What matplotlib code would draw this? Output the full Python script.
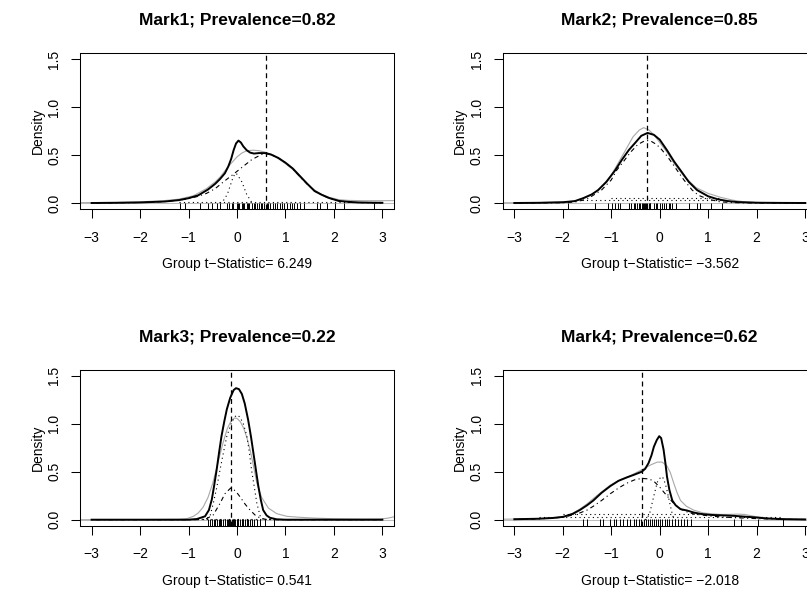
import matplotlib
matplotlib.use("Agg")
import matplotlib.pyplot as plt

plt.rcParams['font.family'] = ['Liberation Sans', 'DejaVu Sans']

W, H = 807, 616

titles = ["Mark1; Prevalence=0.82", "Mark2; Prevalence=0.85",
          "Mark3; Prevalence=0.22", "Mark4; Prevalence=0.62"]
t_stats = ["6.249", "\u22123.562", "0.541", "\u22122.018"]
cut_lines = [0.59, -0.26, -0.13, -0.37]

x_ticks = [-3, -2, -1, 0, 1, 2, 3]
x_tick_labels = ["\u22123", "\u22122", "\u22121", "0", "1", "2", "3"]
y_ticks = [0.0, 0.5, 1.0, 1.5]
y_tick_labels = ["0.0", "0.5", "1.0", "1.5"]

# --- Mark1 ---
m1_black_x = [-3.0, -2.5, -2.0, -1.5, -1.2, -1.0, -0.8, -0.6, -0.45, -0.35, -0.25, -0.18, -0.12, -0.07,
              -0.02, 0.03, 0.08, 0.13, 0.2, 0.27, 0.35, 0.45, 0.58, 0.7, 0.85, 1.0, 1.15, 1.3, 1.45,
              1.6, 1.75, 1.9, 2.1, 2.3, 2.5, 2.8, 3.0]
m1_black_y = [0.0, 0.002, 0.006, 0.015, 0.03, 0.05, 0.08, 0.14, 0.2, 0.25, 0.31, 0.38, 0.46, 0.55,
              0.62, 0.65, 0.63, 0.59, 0.55, 0.525, 0.515, 0.52, 0.52, 0.505, 0.47, 0.42, 0.36, 0.28, 0.2,
              0.125, 0.085, 0.052, 0.022, 0.012, 0.006, 0.003, 0.002]
m1_gray_x = [-3.24, -2.5, -2.0, -1.5, -1.2, -0.9, -0.63, -0.45, -0.35, -0.18, 0.0, 0.1, 0.2, 0.34,
             0.45, 0.58, 0.75, 0.89, 1.0, 1.15, 1.3, 1.45, 1.6, 1.75, 1.9, 2.1, 2.3, 2.6, 3.0, 3.24]
m1_gray_y = [0.003, 0.006, 0.012, 0.025, 0.04, 0.075, 0.15, 0.22, 0.27, 0.38, 0.48, 0.52, 0.545, 0.55,
             0.545, 0.53, 0.5, 0.45, 0.41, 0.35, 0.27, 0.2, 0.135, 0.09, 0.06, 0.035, 0.027, 0.024, 0.024, 0.025]
m1_dashdot_x = [-3.0, -2.0, -1.5, -1.2, -1.0, -0.8, -0.63, -0.45, -0.28, -0.1, 0.0, 0.1, 0.2, 0.3, 0.41,
                0.5, 0.6, 0.7, 0.85, 1.0, 1.15, 1.3, 1.45, 1.6, 1.75, 1.9, 2.1, 2.3, 2.5, 3.0]
m1_dashdot_y = [0.0, 0.005, 0.015, 0.03, 0.045, 0.07, 0.1, 0.15, 0.22, 0.29, 0.33, 0.37, 0.41, 0.45, 0.48,
                0.505, 0.515, 0.505, 0.47, 0.42, 0.355, 0.275, 0.195, 0.125, 0.083, 0.05, 0.022, 0.01, 0.005, 0.001]
m1_dotted_x = [-0.35, -0.3, -0.2, -0.1, -0.04, 0.0, 0.1, 0.2, 0.3, 0.35]
m1_dotted_y = [0.0, 0.01, 0.09, 0.24, 0.31, 0.3, 0.22, 0.09, 0.01, 0.0]
m1_flat = [(-1.2, 3.0, 0.012)]
m1_rug = [-1.18, -1.08, -0.77, -0.59, -0.52, -0.42, -0.35, -0.21, -0.17, -0.11, -0.08, -0.01, 0.02,
          0.05, 0.1, 0.12, 0.14, 0.2, 0.23, 0.25, 0.3, 0.35, 0.38, 0.41, 0.46, 0.49, 0.51, 0.56, 0.61,
          0.64, 0.68, 0.75, 0.79, 0.82, 0.89, 0.93, 0.96, 1.03, 1.1, 1.14, 1.17, 1.23, 1.3, 1.39,
          1.65, 1.72, 1.86, 2.03, 2.2, 2.82]

# --- Mark2 ---
m2_black_x = [-3.0, -2.5, -2.0, -1.75, -1.58, -1.4, -1.27, -1.1, -0.92, -0.78, -0.64, -0.5, -0.38, -0.25,
              -0.12, 0.0, 0.15, 0.3, 0.43, 0.6, 0.77, 1.0, 1.19, 1.4, 1.6, 2.0, 2.5, 3.0]
m2_black_y = [0.0, 0.002, 0.008, 0.02, 0.05, 0.09, 0.135, 0.22, 0.34, 0.45, 0.55, 0.63, 0.7, 0.73,
              0.71, 0.66, 0.55, 0.43, 0.34, 0.22, 0.135, 0.07, 0.04, 0.02, 0.01, 0.003, 0.001, 0.0]
m2_gray_x = [-3.24, -2.5, -2.0, -1.75, -1.5, -1.25, -1.0, -0.75, -0.55, -0.42, -0.33, -0.22, -0.1, 0.0,
             0.15, 0.3, 0.5, 0.75, 1.0, 1.25, 1.5, 1.75, 2.0, 2.5, 3.24]
m2_gray_y = [0.002, 0.004, 0.01, 0.018, 0.06, 0.14, 0.29, 0.51, 0.69, 0.76, 0.785, 0.76, 0.7, 0.63,
             0.53, 0.41, 0.28, 0.16, 0.1, 0.06, 0.03, 0.012, 0.005, 0.002, 0.001]
m2_dashdot_x = [-3.0, -2.0, -1.75, -1.5, -1.2, -1.0, -0.89, -0.75, -0.6, -0.45, -0.3, -0.2, -0.1, 0.0,
                0.15, 0.25, 0.36, 0.5, 0.67, 0.8, 1.0, 1.25, 1.5, 2.0, 3.0]
m2_dashdot_y = [0.0, 0.003, 0.01, 0.04, 0.135, 0.24, 0.34, 0.43, 0.53, 0.61, 0.65, 0.65, 0.62, 0.58,
                0.49, 0.42, 0.34, 0.24, 0.135, 0.08, 0.04, 0.012, 0.004, 0.0, 0.0]
m2_dotted_x = []
m2_dotted_y = []
m2_flat = [(-1.0, 1.26, 0.05), (-1.6, 1.26, 0.03)]
m2_rug = [-1.89, -1.33, -1.06, -0.99, -0.92, -0.87, -0.82, -0.64, -0.59, -0.54, -0.5, -0.46, -0.43,
          -0.41, -0.37, -0.35, -0.33, -0.3, -0.28, -0.26, -0.23, -0.21, -0.19, -0.11, -0.08, -0.06,
          0.0, 0.05, 0.09, 0.12, 0.19, 0.22, 0.26, 0.33, 0.6, 0.77, 0.84, 1.05, 1.29]

# --- Mark3 ---
m3_black_x = [-3.0, -1.0, -0.83, -0.66, -0.58, -0.52, -0.47, -0.42, -0.37, -0.32, -0.26, -0.21, -0.14,
              -0.07, -0.02, 0.04, 0.1, 0.16, 0.23, 0.29, 0.34, 0.39, 0.44, 0.49, 0.54, 0.61, 0.68, 0.82,
              1.0, 3.0]
m3_black_y = [0.0, 0.0, 0.007, 0.035, 0.1, 0.21, 0.36, 0.52, 0.7, 0.87, 1.03, 1.15, 1.27,
              1.35, 1.37, 1.36, 1.31, 1.21, 1.04, 0.86, 0.69, 0.52, 0.35, 0.21, 0.1, 0.045, 0.02, 0.004,
              0.0, 0.0]
m3_gray_x = [-3.24, -2.0, -1.2, -1.04, -0.9, -0.8, -0.7, -0.6, -0.5, -0.4, -0.3, -0.2, -0.12, -0.05,
             0.0, 0.07, 0.14, 0.2, 0.27, 0.34, 0.41, 0.51, 0.65, 0.82, 1.03, 1.3, 1.58, 2.0, 2.6, 2.96,
             3.1, 3.24]
m3_gray_y = [0.0, 0.001, 0.004, 0.01, 0.035, 0.07, 0.13, 0.23, 0.38, 0.58, 0.78, 0.95, 1.03, 1.06,
             1.055, 1.02, 0.95, 0.86, 0.73, 0.56, 0.38, 0.23, 0.12, 0.063, 0.035, 0.025, 0.017, 0.01,
             0.007, 0.008, 0.015, 0.03]
m3_dashdot_x = [-3.0, -0.8, -0.63, -0.49, -0.35, -0.25, -0.13, -0.03, 0.06, 0.17, 0.27, 0.38, 0.48,
                0.6, 0.8, 3.0]
m3_dashdot_y = [0.0, 0.0, 0.01, 0.05, 0.17, 0.27, 0.33, 0.3, 0.24, 0.16, 0.1, 0.045, 0.017,
                0.003, 0.0, 0.0]
m3_dotted_x = [-0.7, -0.56, -0.49, -0.42, -0.35, -0.28, -0.21, -0.12, -0.05, 0.0, 0.06, 0.13, 0.2,
               0.25, 0.3, 0.36, 0.41, 0.48, 0.55]
m3_dotted_y = [0.0, 0.03, 0.17, 0.33, 0.52, 0.7, 0.87, 1.0, 1.07, 1.09, 1.07, 1.0, 0.88,
               0.72, 0.52, 0.33, 0.17, 0.035, 0.0]
m3_flat = [(-0.9, 0.9, 0.008)]
m3_rug = [-0.59, -0.55, -0.52, -0.48, -0.45, -0.42, -0.38, -0.35, -0.32, -0.28, -0.25, -0.21, -0.18,
          -0.16, -0.14, -0.11, -0.08, -0.06, -0.04, -0.01, 0.01, 0.03, 0.06, 0.1, 0.13, 0.17, 0.2,
          0.23, 0.27, 0.3, 0.35, 0.41, 0.48, 0.58, 0.77]

# --- Mark4 ---
m4_black_x = [-3.0, -2.5, -2.2, -1.99, -1.8, -1.65, -1.5, -1.37, -1.2, -1.02, -0.85, -0.68, -0.52,
              -0.37, -0.3, -0.23, -0.17, -0.12, -0.06, -0.01, 0.03, 0.08, 0.12, 0.15, 0.2, 0.26, 0.33,
              0.43, 0.57, 0.7, 0.85, 1.05, 1.3, 1.54, 1.8, 1.95, 2.23, 2.6, 3.0]
m4_black_y = [0.005, 0.01, 0.018, 0.03, 0.06, 0.1, 0.15, 0.2, 0.28, 0.35, 0.405, 0.44, 0.47,
              0.5, 0.53, 0.59, 0.67, 0.76, 0.83, 0.87, 0.85, 0.73, 0.58, 0.45, 0.31, 0.2, 0.15,
              0.11, 0.095, 0.075, 0.06, 0.05, 0.045, 0.04, 0.03, 0.025, 0.012, 0.005, 0.002]
m4_gray_x = [-3.24, -2.5, -2.0, -1.8, -1.65, -1.5, -1.3, -1.02, -0.8, -0.6, -0.37, -0.19, -0.05, 0.05,
             0.15, 0.22, 0.29, 0.36, 0.43, 0.55, 0.7, 0.9, 1.1, 1.26, 1.45, 1.6, 1.75, 1.9, 2.0, 2.3,
             2.7, 3.24]
m4_gray_y = [0.005, 0.01, 0.03, 0.065, 0.11, 0.165, 0.25, 0.36, 0.42, 0.46, 0.52, 0.57, 0.6, 0.6,
             0.56, 0.49, 0.38, 0.28, 0.2, 0.14, 0.1, 0.07, 0.06, 0.055, 0.055, 0.058, 0.055, 0.04, 0.03,
             0.015, 0.008, 0.005]
m4_dashdot_x = [-3.0, -2.5, -2.0, -1.7, -1.5, -1.37, -1.2, -1.02, -0.85, -0.68, -0.52, -0.37, -0.22,
                -0.12, 0.0, 0.08, 0.2, 0.29, 0.43, 0.57, 0.7, 0.84, 1.1, 1.4, 1.8, 2.09, 2.6, 3.0]
m4_dashdot_y = [0.002, 0.008, 0.025, 0.06, 0.1, 0.14, 0.2, 0.27, 0.33, 0.38, 0.415, 0.43, 0.425,
                0.4, 0.34, 0.29, 0.22, 0.17, 0.11, 0.08, 0.06, 0.05, 0.035, 0.025, 0.015, 0.01, 0.004, 0.002]
m4_dotted_x = [-0.3, -0.26, -0.2, -0.12, -0.05, 0.03, 0.08, 0.14, 0.2, 0.25, 0.29, 0.33]
m4_dotted_y = [0.0, 0.01, 0.08, 0.25, 0.39, 0.45, 0.43, 0.33, 0.19, 0.08, 0.01, 0.0]
m4_flat = [(-2.0, 1.0, 0.055), (-2.5, 2.5, 0.025)]
m4_rug = [-1.58, -1.49, -1.23, -1.16, -1.02, -0.95, -0.9, -0.82, -0.75, -0.68, -0.61, -0.54, -0.48,
          -0.43, -0.38, -0.33, -0.29, -0.25, -0.2, -0.15, -0.11, -0.07, -0.03, 0.01, 0.05, 0.1, 0.15,
          0.2, 0.26, 0.31, 0.37, 0.43, 0.5, 0.56, 0.65, 1.0, 1.54, 1.67, 2.02, 2.55]

panels = [
    (m1_black_x, m1_black_y, m1_gray_x, m1_gray_y, m1_dashdot_x, m1_dashdot_y, m1_dotted_x, m1_dotted_y, m1_flat, m1_rug),
    (m2_black_x, m2_black_y, m2_gray_x, m2_gray_y, m2_dashdot_x, m2_dashdot_y, m2_dotted_x, m2_dotted_y, m2_flat, m2_rug),
    (m3_black_x, m3_black_y, m3_gray_x, m3_gray_y, m3_dashdot_x, m3_dashdot_y, m3_dotted_x, m3_dotted_y, m3_flat, m3_rug),
    (m4_black_x, m4_black_y, m4_gray_x, m4_gray_y, m4_dashdot_x, m4_dashdot_y, m4_dotted_x, m4_dotted_y, m4_flat, m4_rug),
]

# plot boxes in pixels: (left, top); the right column runs past the image edge
box_w, box_h = 314, 156
box_pos = [(80, 53), (502.7, 53), (80, 369.7), (502.7, 369.7)]

fig = plt.figure(figsize=(W / 100, H / 100), dpi=100)

for i, (bx, by, gx, gy, dx, dy, ox, oy, flats, rug) in enumerate(panels):
    left, top = box_pos[i]
    ax = fig.add_axes([left / W, 1 - (top + box_h) / H, box_w / W, box_h / H])
    ax.set_xlim(-3.24, 3.24)
    ax.set_ylim(-0.0625, 1.5625)

    ax.axhline(0, color="#bebebe", lw=0.75, zorder=1)
    ax.plot(gx, gy, color="#a8a8a8", lw=0.8, zorder=2)
    ax.plot(dx, dy, color="black", lw=0.8, ls=(0, (1, 3, 4, 3)), zorder=3)
    if ox:
        ax.plot(ox, oy, color="black", lw=0.8, ls=(0, (1, 3)), zorder=3)
    for x0, x1, yv in flats:
        ax.plot([x0, x1], [yv, yv], color="black", lw=0.8, ls=(0, (1, 3)), zorder=3)
    ax.plot(bx, by, color="black", lw=1.4, zorder=4)
    ax.axvline(cut_lines[i], color="black", lw=0.9, ls=(0, (4, 3)), zorder=5)
    ax.vlines(rug, 0, 0.04, transform=ax.get_xaxis_transform(), color="black", lw=0.7, zorder=5)

    for s in ax.spines.values():
        s.set_linewidth(0.75)
    ax.set_xticks(x_ticks)
    ax.set_xticklabels(x_tick_labels)
    ax.set_yticks(y_ticks)
    ax.set_yticklabels(y_tick_labels, rotation=90, va="center")
    ax.tick_params(direction="out", length=6.5, width=0.75, labelsize=10, pad=9)
    ax.tick_params(axis="y", pad=7)
    ax.set_ylabel("Density", fontsize=10, labelpad=2)

    cx = (left + box_w / 2) / W
    fig.text(cx, 1 - (top - 33) / H, titles[i], ha="center", va="center",
             fontsize=12.5, fontweight="bold")
    fig.text(cx, 1 - (top + 211) / H, "Group t\u2212Statistic= " + t_stats[i],
             ha="center", va="center", fontsize=10)

fig.savefig("out.png", dpi=100)
